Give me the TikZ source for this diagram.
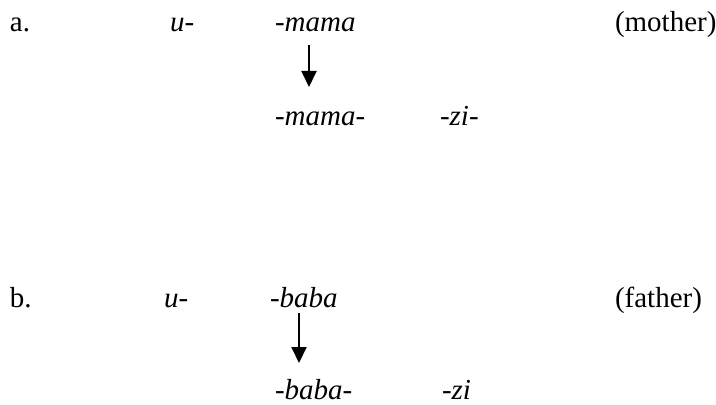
\documentclass[tikz,border=0pt]{standalone}
\usepackage{fontspec}
\setmainfont{Liberation Serif}
\usetikzlibrary{arrows.meta}

\begin{document}
\begin{tikzpicture}[x=.5pt,y=-.5pt,font=\fontsize{14.5}{17}\selectfont,
  word/.style={anchor=base west,inner sep=0pt,outer sep=0pt},
  morph/.style={word,font=\fontsize{14.5}{17}\selectfont\itshape},
  arr/.style={line width=1pt,-{Triangle[width=7.5pt,length=8pt]}}]
  \useasboundingbox (0,0) rectangle (716,405);
  % (a) mother
  \node[word] (a) at (10,32) {a.};
  \node[morph] (au) at (170,32) {u-};
  \node[morph] (mama) at (275,32) {-mama};
  \node[word] (mother) at (615,32) {(mother)};
  \node[morph] (mama2) at (275,126) {-mama-};
  \node[morph] (azi) at (440,126) {-zi-};
  \coordinate (atop) at (309,45);
  \coordinate (atip) at (309,87);
  \draw[arr] (atop) -- (atip);
  % (b) father
  \node[word] (b) at (10,307) {b.};
  \node[morph] (bu) at (164,307) {u-};
  \node[morph] (baba) at (270,307) {-baba};
  \node[word] (father) at (615,307) {(father)};
  \node[morph] (baba2) at (275,399) {-baba-};
  \node[morph] (bzi) at (442,399) {-zi};
  \coordinate (btop) at (299,313);
  \coordinate (btip) at (299,363);
  \draw[arr] (btop) -- (btip);
\end{tikzpicture}
\end{document}
